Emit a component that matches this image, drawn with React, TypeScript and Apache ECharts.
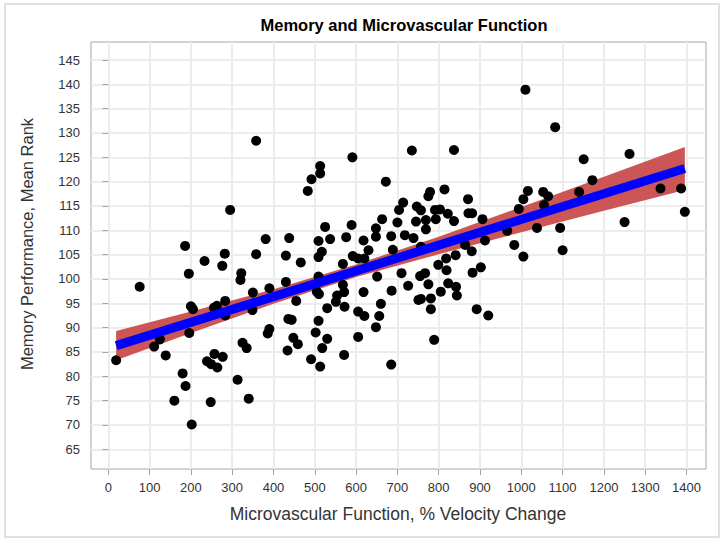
import React, { useEffect, useRef } from "react";
import * as echarts from "echarts";

// Microvascular function (% velocity change) for each subject
const velocityChange = [
  19, 76, 111, 125, 139, 160, 180, 186, 187, 195,
  196, 200, 205, 202, 233, 239, 248, 249, 256, 257,
  263, 264, 276, 277, 282, 283, 283, 295, 313, 320,
  322, 325, 335, 340, 349, 350, 358, 358, 381, 386,
  390, 390, 430, 430, 434, 436, 438, 444, 448, 455,
  459, 466, 483, 491, 492, 502, 505, 509, 509, 509,
  509, 510, 513, 513, 513, 517, 518, 525, 530, 530,
  537, 551, 554, 568, 568, 571, 572, 571, 576, 589,
  591, 592, 605, 605, 605, 618, 618, 620, 620, 630,
  648, 648, 648, 651, 656, 660, 663, 672, 685, 685,
  686, 689, 700, 704, 710, 714, 718, 726, 735, 739,
  745, 747, 751, 755, 757, 757, 757, 767, 769, 769,
  775, 775, 779, 781, 781, 789, 791, 793, 799, 803,
  805, 814, 818, 819, 822, 823, 837, 837, 841, 842,
  844, 864, 871, 872, 881, 880, 882, 892, 902, 906,
  912, 920, 966, 983, 994, 1005, 1005, 1010, 1016, 1038,
  1053, 1055, 1065, 1082, 1094, 1100, 1140, 1151, 1172, 1250,
  1262, 1337, 1387, 1396,
];

// Memory performance (mean rank) for each subject
const memoryRank = [
  83.3, 98.4, 86.1, 87.6, 84.3, 75.0, 80.6, 106.8, 78.0, 101.1,
  88.9, 94.4, 93.8, 70.1, 103.7, 83.1, 74.7, 82.5, 94.1, 84.6,
  94.5, 81.8, 102.7, 84.0, 105.2, 95.5, 92.5, 114.2, 79.3, 99.8,
  101.2, 86.9, 85.8, 75.4, 93.6, 97.2, 128.4, 105.1, 108.2, 88.8,
  89.7, 98.1, 104.8, 99.4, 85.3, 91.8, 108.4, 91.6, 87.9, 95.5,
  86.6, 103.4, 118.1, 83.5, 120.5, 89.0, 97.4, 100.5, 91.4, 104.5,
  107.8, 96.9, 121.7, 123.2, 82.0, 105.6, 85.8, 110.7, 87.7, 94.0,
  108.2, 95.3, 96.6, 103.1, 98.8, 97.3, 94.3, 84.4, 108.6, 111.1,
  125.0, 104.7, 104.2, 93.3, 88.1, 107.9, 97.3, 104.2, 92.4, 105.9,
  110.4, 108.7, 90.1, 100.5, 92.4, 94.9, 112.3, 120.0, 108.8, 82.4,
  97.6, 106.0, 111.6, 114.2, 101.2, 115.7, 109.0, 98.6, 126.4, 108.4,
  111.8, 114.9, 95.7, 100.6, 114.1, 106.6, 95.9, 101.2, 112.1, 110.2,
  117.0, 98.9, 117.9, 96.0, 93.8, 87.5, 114.2, 112.3, 102.9, 114.3,
  97.4, 118.4, 104.2, 101.8, 113.4, 99.1, 126.5, 111.9, 104.9, 98.4,
  96.6, 107.0, 116.4, 113.5, 113.5, 105.7, 101.3, 93.8, 102.4, 112.3,
  107.9, 92.5, 109.9, 107.0, 114.4, 116.4, 104.6, 138.9, 118.1, 110.5,
  117.9, 115.2, 117.0, 131.2, 110.5, 105.9, 117.9, 124.6, 120.3, 111.7,
  125.7, 118.6, 118.6, 113.8,
];

// Regression fit line end points
const fitX = [19, 1396];
const fitY = [86.3, 122.7];

// Confidence band for the mean, read at several x positions
const bandX = [19, 200, 400, 600, 800, 1000, 1200, 1396];
const bandLower = [83.3, 88.9, 94.9, 100.4, 105.1, 109.6, 114.0, 118.3];
const bandUpper = [89.3, 93.3, 97.9, 103.0, 108.7, 114.8, 121.0, 127.1];

// Tick labels
const xTicks = [0, 100, 200, 300, 400, 500, 600, 700, 800, 900, 1000, 1100, 1200, 1300, 1400];
const yTicks = [65, 70, 75, 80, 85, 90, 95, 100, 105, 110, 115, 120, 125, 130, 135, 140, 145];

const FONT = "'Liberation Sans', Arial, Helvetica, sans-serif";

export default function App() {
  const ref = useRef<HTMLDivElement>(null);

  useEffect(() => {
    if (!ref.current) return;
    const chart = echarts.init(ref.current, null, { renderer: "svg" });

    const points = velocityChange.map((x, i) => [x, memoryRank[i]]);
    const fitData = fitX.map((x, i) => [x, fitY[i]]);

    chart.setOption({
      animation: false,
      backgroundColor: "#ffffff",
      textStyle: { fontFamily: FONT },
      title: {
        text: "Memory and Microvascular Function",
        left: 399,
        top: 11,
        textAlign: "center",
        textStyle: { fontFamily: FONT, fontSize: 16.5, fontWeight: "bold", color: "#000" },
      },
      graphic: [
        {
          type: "rect",
          shape: { x: 5, y: 4, width: 714, height: 533 },
          style: { fill: "none", stroke: "#d6d6d6", lineWidth: 1.5 },
          silent: true,
          z: -1,
        },
        {
          type: "text",
          x: 398,
          y: 514,
          style: {
            text: "Microvascular Function, % Velocity Change",
            fontFamily: FONT,
            fontSize: 17.5,
            fill: "#333",
            align: "center",
            verticalAlign: "middle",
          },
          silent: true,
        },
        {
          type: "text",
          x: 27,
          y: 244,
          rotation: Math.PI / 2,
          style: {
            text: "Memory Performance, Mean Rank",
            fontFamily: FONT,
            fontSize: 16.5,
            fill: "#333",
            align: "center",
            verticalAlign: "middle",
          },
          silent: true,
        },
      ],
      grid: {
        left: 91,
        top: 42,
        width: 615,
        height: 427,
        show: true,
        borderColor: "#a6a6a6",
        borderWidth: 1,
        backgroundColor: "#ffffff",
        containLabel: false,
      },
      xAxis: {
        type: "value",
        min: -41.9,
        max: 1447.2,
        axisLine: { show: false },
        axisTick: { show: true, length: 6, lineStyle: { color: "#a6a6a6" }, customValues: xTicks },
        axisLabel: {
          customValues: xTicks,
          fontSize: 13,
          color: "#333",
          margin: 12,
          fontFamily: FONT,
          formatter: (v: number) => String(v),
        },
        splitLine: { show: true, lineStyle: { color: "#ececec", width: 2 } },
      },
      yAxis: {
        type: "value",
        min: 60.95,
        max: 148.7,
        axisLine: { show: false },
        axisTick: { show: true, length: 6, lineStyle: { color: "#a6a6a6" }, customValues: yTicks },
        axisLabel: {
          customValues: yTicks,
          fontSize: 13,
          color: "#333",
          margin: 11,
          fontFamily: FONT,
          formatter: (v: number) => String(v),
        },
        splitLine: { show: true, lineStyle: { color: "#ececec", width: 2 } },
      },
      series: [
        {
          type: "custom",
          name: "95% Confidence Limits",
          silent: true,
          z: 1,
          data: [[bandX[0], bandLower[0]]],
          renderItem: (_params: any, api: any) => {
            const upperPts = bandX.map((x, i) => api.coord([x, bandUpper[i]]));
            const lowerPts = bandX
              .map((x, i) => api.coord([x, bandLower[i]]))
              .reverse();
            return {
              type: "polygon",
              shape: { points: upperPts.concat(lowerPts) },
              style: { fill: "#cc5656", stroke: "none" },
            };
          },
        },
        {
          type: "scatter",
          name: "Subjects",
          z: 2,
          symbol: "circle",
          symbolSize: 10,
          itemStyle: { color: "#000000", opacity: 1 },
          data: points,
        },
        {
          type: "line",
          name: "Regression",
          z: 3,
          symbol: "none",
          lineStyle: { color: "#0000ff", width: 9, cap: "butt" },
          data: fitData,
        },
      ],
    });

    return () => chart.dispose();
  }, []);

  return (
    <div
      ref={ref}
      style={{ position: "fixed", left: 0, top: 0, width: 725, height: 543, background: "#fff" }}
    />
  );
}
